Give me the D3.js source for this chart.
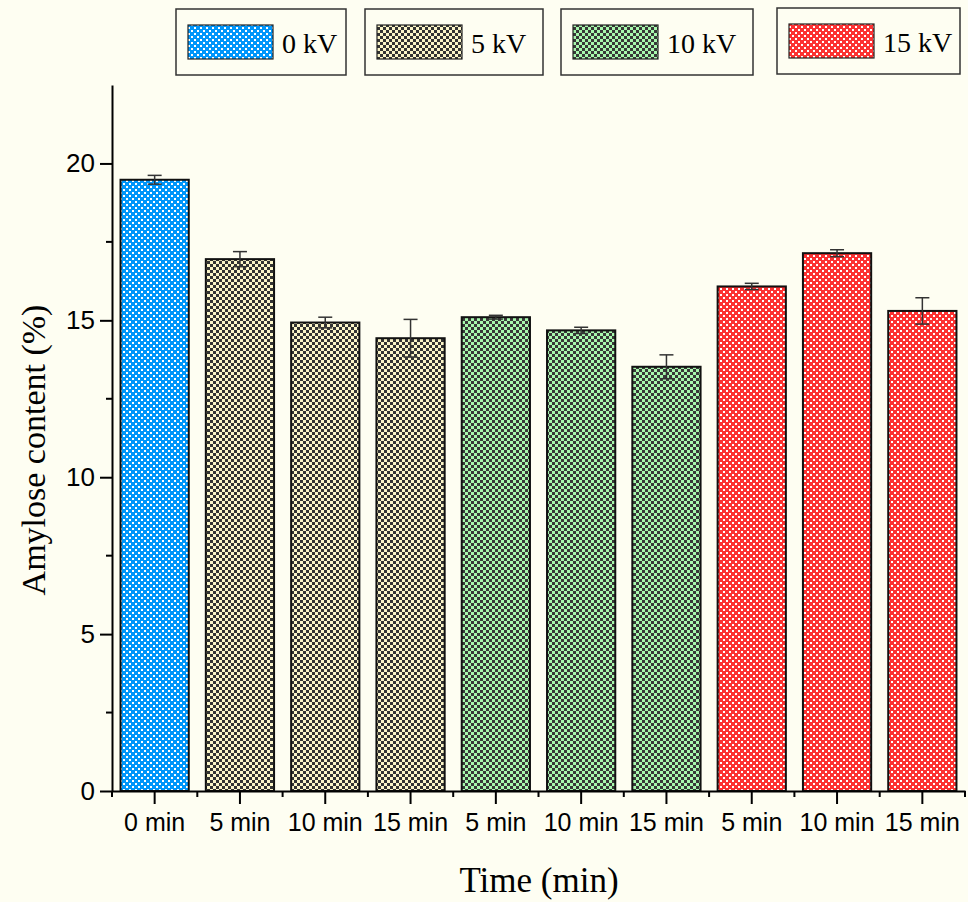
<!DOCTYPE html>
<html>
<head>
<meta charset="utf-8">
<script src="https://cdn.jsdelivr.net/npm/d3@7"></script>
<style>
  html, body { margin: 0; padding: 0; background: #fefef2; }
  svg { display: block; }
</style>
</head>
<body>
<svg id="chart" width="968" height="902"></svg>
<script>
// Amylose content by voltage and treatment time
const categories = ["0 min", "5 min", "10 min", "15 min", "5 min", "10 min", "15 min", "5 min", "10 min", "15 min"];
const groups     = ["0 kV", "5 kV", "5 kV", "5 kV", "10 kV", "10 kV", "10 kV", "15 kV", "15 kV", "15 kV"];
const values     = [19.48, 16.95, 14.93, 14.43, 15.10, 14.68, 13.52, 16.08, 17.14, 15.30];
const errors     = [0.14, 0.24, 0.17, 0.60, 0.06, 0.10, 0.38, 0.10, 0.11, 0.42];
const legendLabels = ["0 kV", "5 kV", "10 kV", "15 kV"];
const yTicks = [0, 5, 10, 15, 20];

const svg = d3.select("#chart");
const W = 968, H = 902;
svg.append("rect").attr("width", W).attr("height", H).attr("fill", "#fefef2");

// Fill patterns for each voltage group
const defs = svg.append("defs");
const patternSpec = {
  "0 kV":  { bg: "#0096fa", fg: "#ffffff", kind: "dots" },
  "5 kV":  { bg: "#fbf5c8", fg: "#333333", kind: "check" },
  "10 kV": { bg: "#a8f8ad", fg: "#383838", kind: "check" },
  "15 kV": { bg: "#fc3232", fg: "#ffffff", kind: "dots" }
};
const patId = g => "pat" + g.replace(/\s/g, "");
Object.entries(patternSpec).forEach(([g, s]) => {
  const p = defs.append("pattern").attr("id", patId(g))
    .attr("patternUnits", "userSpaceOnUse").attr("width", 6).attr("height", 6);
  p.append("rect").attr("width", 6).attr("height", 6).attr("fill", s.bg);
  if (s.kind === "dots") {
    p.append("rect").attr("x", 0).attr("y", 0).attr("width", 2).attr("height", 2).attr("fill", s.fg);
    p.append("rect").attr("x", 3).attr("y", 3).attr("width", 2).attr("height", 2).attr("fill", s.fg);
  } else {
    p.append("rect").attr("x", 0).attr("y", 0).attr("width", 3).attr("height", 3).attr("fill", s.fg);
    p.append("rect").attr("x", 3).attr("y", 3).attr("width", 3).attr("height", 3).attr("fill", s.fg);
  }
});

// Scales
const x0 = 112, x1 = 965, yBottom = 791, yTop = 85;
const x = d3.scaleBand().domain(d3.range(categories.length)).range([x0, x1]).paddingInner(0.2).paddingOuter(0.1);
const y = d3.scaleLinear().domain([0, 22.5]).range([yBottom, yTop]);

// Bars
const bars = svg.append("g");
bars.selectAll("rect").data(values).join("rect")
  .attr("x", (d, i) => x(i))
  .attr("y", d => y(d))
  .attr("width", x.bandwidth())
  .attr("height", d => y(0) - y(d))
  .attr("fill", (d, i) => `url(#${patId(groups[i])})`)
  .attr("stroke", "#111")
  .attr("stroke-width", 2);

// Error bars
const eb = svg.append("g").attr("stroke", "#333").attr("stroke-width", 1.5);
values.forEach((v, i) => {
  const cx = x(i) + x.bandwidth() / 2;
  const hi = y(v + errors[i]), lo = y(v - errors[i]);
  eb.append("line").attr("x1", cx).attr("x2", cx).attr("y1", hi).attr("y2", lo);
  eb.append("line").attr("x1", cx - 7).attr("x2", cx + 7).attr("y1", hi).attr("y2", hi);
  eb.append("line").attr("x1", cx - 7).attr("x2", cx + 7).attr("y1", lo).attr("y2", lo);
});

// Y axis
const yAxis = svg.append("g").attr("transform", `translate(${x0},0)`);
yAxis.call(d3.axisLeft(y).tickValues(yTicks).tickSize(12).tickPadding(5).tickSizeOuter(0))
  .call(g => g.select(".domain").attr("stroke", "#000").attr("stroke-width", 2))
  .call(g => g.selectAll(".tick line").attr("stroke", "#000").attr("stroke-width", 2))
  .call(g => g.selectAll(".tick text").attr("font-family", "Liberation Sans, Arial, sans-serif")
    .attr("font-size", 26).attr("fill", "#000"));
const yMinor = d3.range(2.5, 22.5, 5);
yAxis.selectAll(".minor").data(yMinor).join("line").attr("class", "minor")
  .attr("x1", -6).attr("x2", 0).attr("y1", d => y(d)).attr("y2", d => y(d))
  .attr("stroke", "#000").attr("stroke-width", 2);

// X axis
const xAxis = svg.append("g").attr("transform", `translate(0,${yBottom})`);
xAxis.call(d3.axisBottom(x).tickFormat(i => categories[i]).tickSize(13).tickPadding(9).tickSizeOuter(0))
  .call(g => g.select(".domain").attr("stroke", "#000").attr("stroke-width", 2))
  .call(g => g.selectAll(".tick line").attr("stroke", "#000").attr("stroke-width", 2))
  .call(g => g.selectAll(".tick text").attr("font-family", "Liberation Sans, Arial, sans-serif")
    .attr("font-size", 25).attr("fill", "#000"));
const step = x.step();
xAxis.selectAll(".minor").data(d3.range(categories.length + 1)).join("line").attr("class", "minor")
  .attr("x1", i => x0 + i * step).attr("x2", i => x0 + i * step)
  .attr("y1", 0).attr("y2", 6)
  .attr("stroke", "#000").attr("stroke-width", 2);

// Axis titles
svg.append("text").attr("transform", "translate(45,450) rotate(-90)")
  .attr("text-anchor", "middle").attr("font-family", "Liberation Serif, Times New Roman, serif")
  .attr("font-size", 34).attr("fill", "#000").text("Amylose content (%)");
svg.append("text").attr("x", 539).attr("y", 892)
  .attr("text-anchor", "middle").attr("font-family", "Liberation Serif, Times New Roman, serif")
  .attr("font-size", 35).attr("fill", "#000").text("Time (min)");

// Legend: one framed box per voltage
const legendBoxes = [
  { x: 176, w: 170, y: 9, h: 66 },
  { x: 365, w: 178, y: 9, h: 66 },
  { x: 561, w: 192, y: 9, h: 66 },
  { x: 777, w: 183, y: 8, h: 66 }
];
legendLabels.forEach((lab, i) => {
  const b = legendBoxes[i];
  const g = svg.append("g").attr("transform", `translate(${b.x},${b.y})`);
  g.append("rect").attr("width", b.w).attr("height", b.h)
    .attr("fill", "#fefef2").attr("stroke", "#333").attr("stroke-width", 1.5);
  g.append("rect").attr("x", 12).attr("y", 16).attr("width", 85).attr("height", 34)
    .attr("fill", `url(#${patId(lab)})`).attr("stroke", "#222").attr("stroke-width", 1.2);
  g.append("text").attr("x", 106).attr("y", 44)
    .attr("font-family", "Liberation Serif, Times New Roman, serif")
    .attr("font-size", 28).attr("fill", "#000").text(lab);
});
</script>
</body>
</html>
